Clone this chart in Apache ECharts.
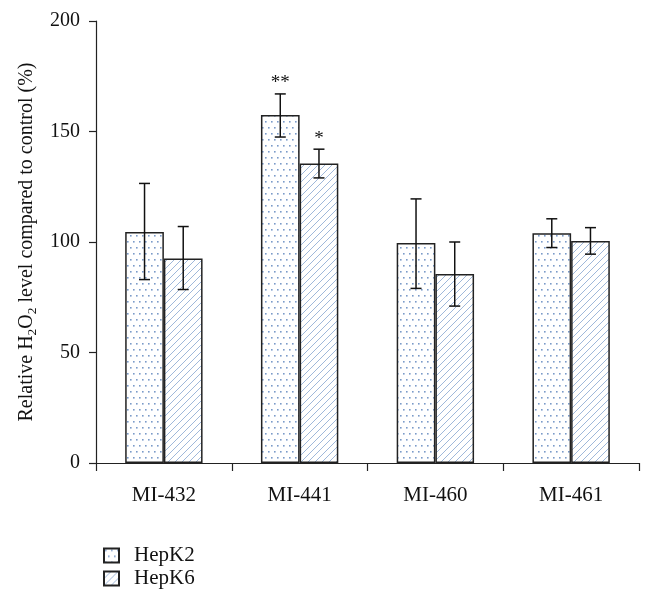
<!DOCTYPE html>
<html><head><meta charset="utf-8">
<script src="https://cdn.jsdelivr.net/npm/echarts@6/dist/echarts.min.js"></script>
<style>html,body{margin:0;padding:0;background:#fff}#c{width:654px;height:599px}</style>
</head><body><div id="c"></div>
<script>
const categories = ['MI-432', 'MI-441', 'MI-460', 'MI-461'];
const seriesNames = ['HepK2', 'HepK6'];
const hepK2 = [104.5, 157.5, 99.5, 104];
const hepK2Low = [83, 147.5, 79, 97.5];
const hepK2High = [126.5, 167, 119.5, 110.5];
const hepK6 = [92.5, 135.5, 85.5, 100.5];
const hepK6Low = [78.5, 129, 71, 94.5];
const hepK6High = [107, 142, 100, 106.5];
const hepK2Stars = ['', '**', '', ''];
const hepK6Stars = ['', '*', '', ''];
const yTicks = [0, 50, 100, 150, 200];

const FONT = "'Liberation Serif', 'Times New Roman', serif";

function dotPattern() {
  const s = 12;
  const c = document.createElement('canvas'); c.width = s; c.height = s;
  const g = c.getContext('2d');
  g.fillStyle = '#fff'; g.fillRect(0, 0, s, s);
  g.fillStyle = '#7b9bc9';
  [[1, 1], [7, 1], [4, 7], [10, 7]].forEach(p => g.fillRect(p[0], p[1], 1.6, 1.6));
  return c;
}
function hatchPattern() {
  const s = 7;
  const c = document.createElement('canvas'); c.width = s; c.height = s;
  const g = c.getContext('2d');
  g.fillStyle = '#fff'; g.fillRect(0, 0, s, s);
  g.strokeStyle = '#9fb8da'; g.lineWidth = 1;
  g.beginPath();
  g.moveTo(-1, s + 1); g.lineTo(s + 1, -1);
  g.moveTo(-1, 1); g.lineTo(1, -1);
  g.moveTo(s - 1, s + 1); g.lineTo(s + 1, s - 1);
  g.stroke();
  return c;
}

const BAR_FRAC = 0.285;
const errData = [];
for (let i = 0; i < categories.length; i++) {
  errData.push([i, hepK2Low[i], hepK2High[i], -1, hepK2Stars[i]]);
  errData.push([i, hepK6Low[i], hepK6High[i], 1, hepK6Stars[i]]);
}

const chart = echarts.init(document.getElementById('c'), null, {renderer: 'canvas'});
chart.setOption({
  animation: false,
  backgroundColor: '#fff',
  textStyle: {fontFamily: FONT},
  grid: {left: 96, right: 15, top: 21, bottom: 136},
  legend: {
    orient: 'vertical', left: 98, top: 540, itemWidth: 15, itemHeight: 14, itemGap: 2,
    icon: 'rect',
    data: seriesNames,
    textStyle: {fontFamily: FONT, fontSize: 21, color: '#111', padding: [0, 0, 0, 10]}
  },
  xAxis: {
    type: 'category', data: categories,
    axisLine: {lineStyle: {color: '#222', width: 1.2}},
    axisTick: {show: true, length: 8, lineStyle: {color: '#222', width: 1.2}},
    axisLabel: {fontFamily: FONT, fontSize: 21, color: '#111', margin: 22}
  },
  yAxis: {
    type: 'value', min: yTicks[0], max: yTicks[yTicks.length - 1], interval: 50,
    splitLine: {show: false},
    axisLine: {show: true, lineStyle: {color: '#222', width: 1.2}},
    axisTick: {show: true, length: 7, lineStyle: {color: '#222', width: 1.2}},
    axisLabel: {fontFamily: FONT, fontSize: 20, color: '#111', margin: 16},
    name: 'Relative H{sub|2}O{sub|2} level compared to control (%)',
    nameLocation: 'middle', nameRotate: 90, nameGap: 53,
    nameTextStyle: {
      fontFamily: FONT, fontSize: 20, color: '#111', lineHeight: 24,
      rich: {sub: {fontFamily: FONT, fontSize: 13.5, color: '#111', verticalAlign: 'bottom', lineHeight: 24, padding: [9, 0, 0, 0]}}
    }
  },
  series: [
    {name: 'HepK2', type: 'bar', data: hepK2, barWidth: (BAR_FRAC * 100) + '%', barGap: '0%',
     itemStyle: {color: {image: dotPattern(), repeat: 'repeat'}, borderColor: '#222', borderWidth: 1.5}},
    {name: 'HepK6', type: 'bar', data: hepK6, barWidth: (BAR_FRAC * 100) + '%', barGap: '0%',
     itemStyle: {color: {image: hatchPattern(), repeat: 'repeat'}, borderColor: '#222', borderWidth: 1.5}},
    {type: 'custom', data: errData, z: 10, silent: true,
     renderItem: function (params, api) {
       const cat = api.value(0), lo = api.value(1), hi = api.value(2), side = api.value(3);
       const star = errData[params.dataIndex][4];
       const bw = api.size([1, 0])[0] * BAR_FRAC;
       const pLo = api.coord([cat, lo]), pHi = api.coord([cat, hi]);
       const x = pLo[0] + side * bw / 2;
       const cap = 5.5;
       const st = {stroke: '#111', lineWidth: 1.5};
       const children = [
         {type: 'line', shape: {x1: x, y1: pLo[1], x2: x, y2: pHi[1]}, style: st},
         {type: 'line', shape: {x1: x - cap, y1: pLo[1], x2: x + cap, y2: pLo[1]}, style: st},
         {type: 'line', shape: {x1: x - cap, y1: pHi[1], x2: x + cap, y2: pHi[1]}, style: st}
       ];
       if (star) {
         children.push({type: 'text', style: {text: star, x: x, y: pHi[1] - 1, align: 'center', verticalAlign: 'bottom',
           font: '19px ' + FONT, fill: '#111'}});
       }
       return {type: 'group', children: children};
     }}
  ]
});
</script></body></html>
